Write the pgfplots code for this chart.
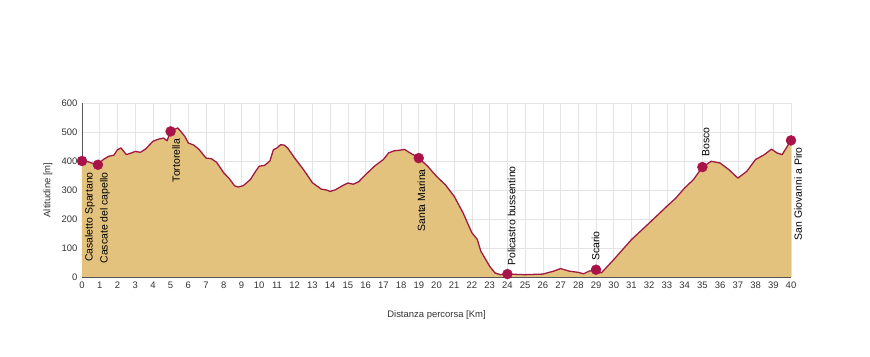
\documentclass[border=0pt]{standalone}
\usepackage{pgfplots}
\pgfplotsset{compat=1.18}
\usepackage{fontspec}
\setmainfont{Liberation Sans}
\definecolor{fillc}{HTML}{E2C27D}
\definecolor{linec}{HTML}{9E1A45}
\definecolor{markc}{HTML}{A8144A}
\definecolor{gridc}{HTML}{E4E4E4}
\definecolor{axisc}{HTML}{555555}
\definecolor{textc}{HTML}{333333}
\pgfplotstableread{
x y
0 400
0.3 398
0.6 392
0.9 387
1.2 405
1.5 416
1.8 420
2.0 439
2.2 445
2.5 422
2.8 428
3.0 433
3.3 430
3.6 442
4.0 468
4.3 475
4.6 479
4.8 470
5.0 502
5.2 508
5.4 514
5.6 500
5.8 485
6.0 462
6.3 455
6.6 440
7.0 410
7.3 408
7.6 395
8.0 359
8.3 340
8.6 315
8.8 310
9.1 315
9.5 336
9.8 365
10.0 382
10.3 385
10.6 400
10.8 439
11.0 445
11.2 456
11.4 455
11.6 445
12.0 410
12.5 370
13.0 325
13.5 303
13.8 300
14.0 295
14.3 301
14.7 315
15.0 324
15.3 320
15.6 328
16.0 353
16.5 382
17.0 405
17.3 428
17.6 435
17.9 437
18.2 440
18.5 428
18.8 418
19.0 410
19.5 382
20.0 347
20.5 318
21.0 278
21.5 221
22.0 152
22.3 130
22.5 89
23.0 37
23.3 14
23.6 8
24.0 10
25.0 8
26.0 10
26.6 20
27.0 29
27.5 20
28.0 16
28.3 11
28.6 20
29.0 25
29.3 14
30.0 60
31.0 129
32.0 186
33.0 244
33.5 272
34.0 307
34.5 336
35.0 379
35.5 399
36.0 393
36.5 370
37.0 341
37.5 364
38.0 405
38.5 422
38.9 441
39.2 428
39.5 422
40.0 471
}\profile
\pgfplotstableread{
x y
0 400
0.9 387
5 502
19 410
24 10
29 25
35 379
40 471
}\points
\begin{document}
\begin{tikzpicture}
\begin{axis}[
  scale only axis,
  width=709bp, height=174bp,
  xmin=0, xmax=40, ymin=0, ymax=600,
  xtick={0,1,...,40}, ytick={0,100,...,600},
  axis x line=bottom, axis y line=left,
  axis line style={-, axisc, line width=0.8pt},
  major tick length=0pt,
  grid=major, grid style={gridc, line width=0.6pt},
  tick label style={font=\fontsize{9.5}{10}\selectfont, text=textc},
  /pgf/number format/assume math mode=true,
  xticklabel style={yshift=-1bp},
  yticklabel style={xshift=-1bp},
  xlabel={Distanza percorsa [Km]},
  ylabel={Altitudine [m]},
  label style={font=\fontsize{9.5}{10}\selectfont, text=textc},
  xlabel style={at={(axis description cs:0.5,-0.218)}, anchor=center},
  ylabel style={at={(axis description cs:-0.048,0.5)}, anchor=center},
  clip=false,
  axis on top=false,
]
\addplot[fill=fillc, draw=none] table[x=x,y=y] {\profile} \closedcycle;
\addplot[linec, line width=1.3pt, line join=round] table[x=x,y=y] {\profile};
\addplot[only marks, mark=*, mark size=5bp, color=markc, mark options={fill=markc, draw=markc}] table[x=x,y=y] {\points};
\begin{scope}[every node/.style={rotate=90, inner sep=0pt, font=\fontsize{10.5}{11}\selectfont, text=black}]
\node[anchor=east] at (axis cs:0.45,362) {Casaletto Spartano};
\node[anchor=east] at (axis cs:1.3,362) {Cascate del capello};
\node[anchor=east] at (axis cs:5.31,476) {Tortorella};
\node[anchor=east] at (axis cs:19.15,372) {Santa Marina};
\node[anchor=west] at (axis cs:24.24,38) {Policastro bussentino};
\node[anchor=west] at (axis cs:28.98,55) {Scario};
\node[anchor=west] at (axis cs:35.2,414) {Bosco};
\node[anchor=east] at (axis cs:40.4,448) {San Giovanni a Piro};
\end{scope}
\end{axis}
\pgfresetboundingbox
\useasboundingbox ([xshift=-82bp,yshift=-80bp]current axis.south west) rectangle ([xshift=79bp,yshift=103bp]current axis.north east);
\end{tikzpicture}
\end{document}
